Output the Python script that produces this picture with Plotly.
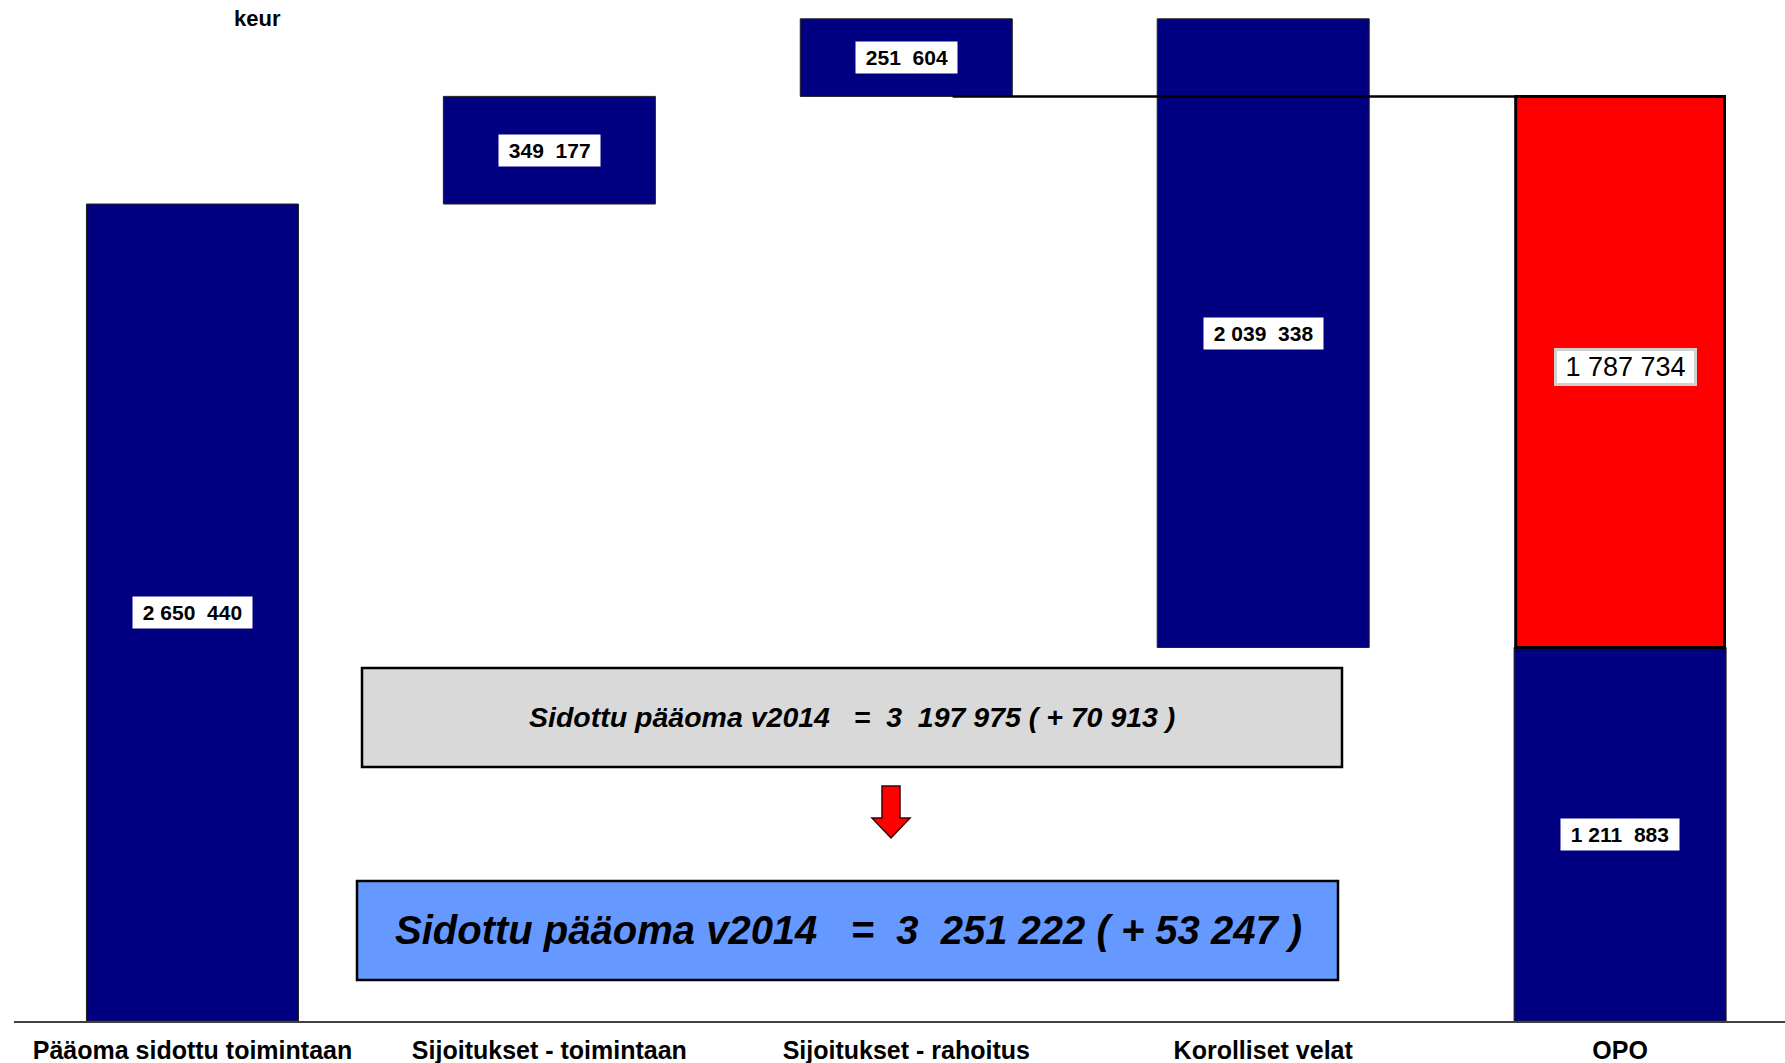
import plotly.graph_objects as go

# ---- data ----
categories = ["Pääoma sidottu toimintaan", "Sijoitukset - toimintaan",
              "Sijoitukset - rahoitus", "Korolliset velat", "OPO"]
blue_values = [2650440, 349177, 251604, 2039338, 1211883]
blue_bases = [0, 2650440, 2999617, 1211883, 0]
blue_labels = ["2 650  440", "349  177", "251  604", "2 039  338", "1 211  883"]
red_category = "OPO"
red_value = 1787734
red_base = 1211883
red_label = "1 787 734"
unit_label = "keur"
box_text_old = "Sidottu pääoma v2014   =  3  197 975 ( + 70 913 )"
box_text_new = "Sidottu pääoma v2014   =  3  251 222 ( + 53 247 )"

W, H = 1785, 1063
ML, MR, MT, MB = 14, 0, 0, 42
PW, PH = W - ML - MR, H - MT - MB
FONT = "Arial, Liberation Sans, sans-serif"


def px(x):
    return (x - ML) / PW


def py(y):
    return (H - MB - y) / PH


fig = go.Figure()
fig.add_trace(go.Bar(
    x=categories, y=blue_values, base=blue_bases, width=0.594,
    marker=dict(color="#000080", line=dict(color="#202020", width=1)),
    hoverinfo="skip", showlegend=False))
fig.add_trace(go.Bar(
    x=[red_category], y=[red_value], base=[red_base], width=0.585,
    marker=dict(color="#FF0000", line=dict(color="#000000", width=3)),
    hoverinfo="skip", showlegend=False))

annotations = []
for c, v, b, t in zip(categories, blue_values, blue_bases, blue_labels):
    annotations.append(dict(
        x=c, y=b + v / 2, xref="x", yref="y", text="\u00a0" + t + "\u00a0",
        showarrow=False, bgcolor="white", borderpad=4,
        font=dict(family=FONT, size=21, color="black", weight="bold")))
annotations.append(dict(
    x=red_category, y=red_base + red_value / 2, xref="x", yref="y",
    text="\u00a0" + red_label + "\u00a0", showarrow=False, xshift=5, yshift=5,
    bgcolor="white", bordercolor="#D0D0D0", borderwidth=3, borderpad=1,
    font=dict(family=FONT, size=27, color="black")))
annotations.append(dict(
    x=px(257), y=py(19), xref="paper", yref="paper", text=unit_label,
    xanchor="center", yanchor="middle",
    showarrow=False, font=dict(family=FONT, size=22, color="black", weight="bold")))
annotations.append(dict(
    x=px(852), y=py(717), xref="paper", yref="paper", text=box_text_old,
    xanchor="center", yanchor="middle", showarrow=False,
    font=dict(family=FONT, size=28.5, color="black", weight="bold", style="italic")))
annotations.append(dict(
    x=px(848), y=py(930), xref="paper", yref="paper", text=box_text_new,
    xanchor="center", yanchor="middle", showarrow=False,
    font=dict(family=FONT, size=40, color="black", weight="bold", style="italic")))

shapes = [
    dict(type="rect", xref="paper", yref="paper", x0=px(362), x1=px(1342),
         y0=py(767), y1=py(668), fillcolor="#D9D9D9",
         line=dict(color="black", width=2.5), layer="below"),
    dict(type="rect", xref="paper", yref="paper", x0=px(357), x1=px(1338),
         y0=py(980), y1=py(881), fillcolor="#6699FF",
         line=dict(color="black", width=2.5), layer="below"),
    dict(type="line", xref="x", yref="y", x0=2.13, x1=4.233,
         y0=blue_bases[2], y1=blue_bases[2], line=dict(color="black", width=2.5)),
]
arrow_pts = [(882, 786), (900, 786), (900, 818), (910, 818), (891, 838),
             (872, 818), (882, 818)]
path = "M " + " L ".join(f"{px(a):.5f},{py(b):.5f}" for a, b in arrow_pts) + " Z"
shapes.append(dict(type="path", xref="paper", yref="paper", path=path,
                   fillcolor="#FF0000", line=dict(color="#400000", width=1.5)))

fig.update_layout(
    width=W, height=H, margin=dict(l=ML, r=MR, t=MT, b=MB, pad=0),
    plot_bgcolor="white", paper_bgcolor="white", barmode="overlay",
    annotations=annotations, shapes=shapes, showlegend=False,
    xaxis=dict(range=[-0.5, 4.462], showgrid=False, zeroline=False,
               showline=True, linecolor="#404040", linewidth=2, ticks="",
               tickfont=dict(family=FONT, size=25, color="black", weight="bold"),
               ticklabelstandoff=6, fixedrange=True),
    yaxis=dict(range=[0, 3312300], visible=False, fixedrange=True),
)

fig.write_html("out.html", post_script="document.body.style.margin='0';",
               config={"displayModeBar": False})
